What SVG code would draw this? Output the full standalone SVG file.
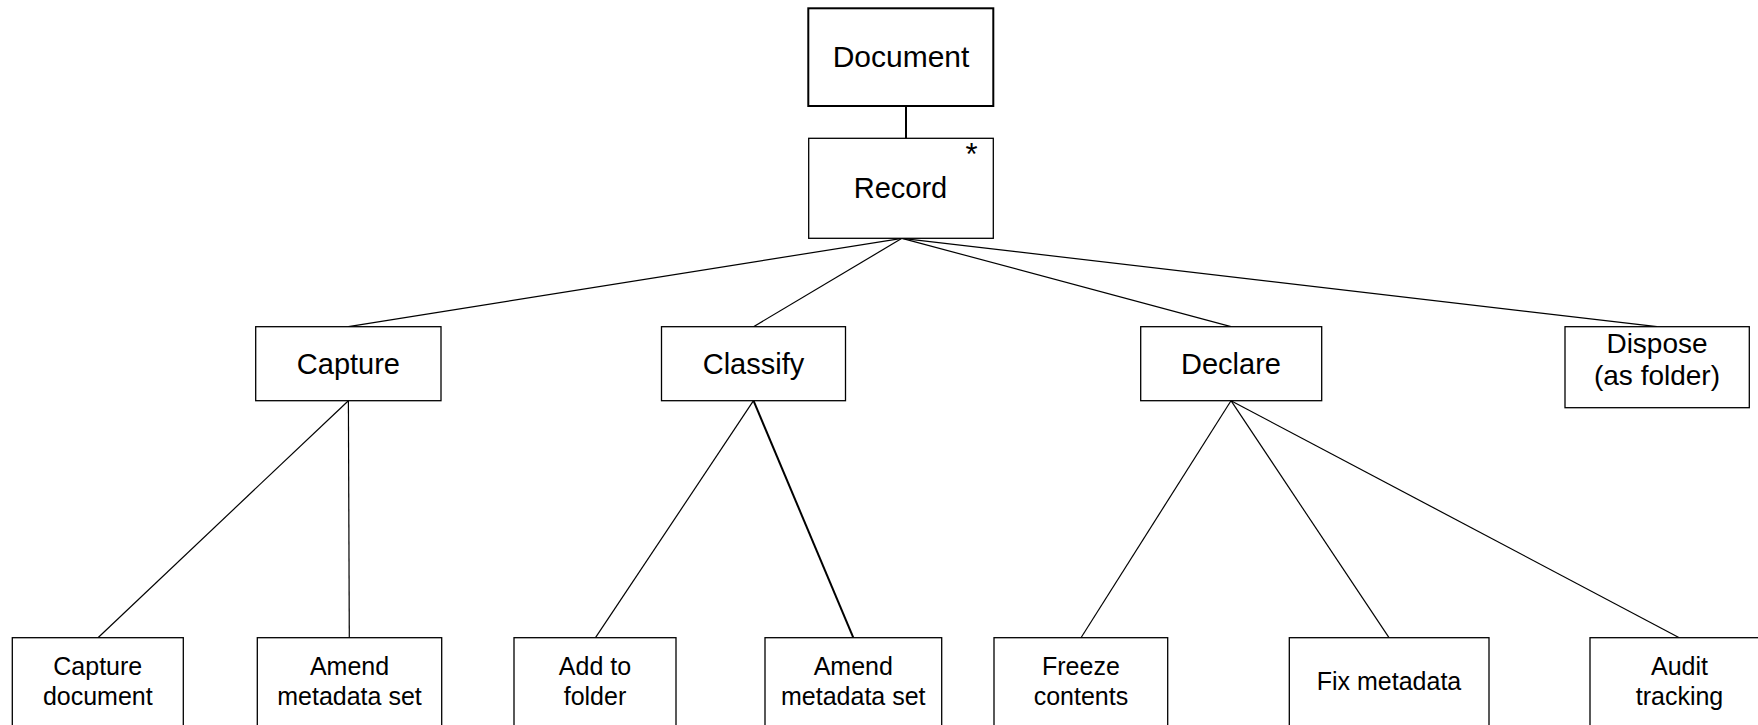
<svg xmlns="http://www.w3.org/2000/svg" width="1758" height="725" viewBox="0 0 1758 725">
<style>
.box{fill:#fff;stroke:#000;stroke-width:1.3}
.t{font-family:"Liberation Sans",Arial,sans-serif;font-size:29px;fill:#000;text-anchor:middle}
.s{font-family:"Liberation Sans",Arial,sans-serif;font-size:25px;fill:#000;text-anchor:middle}
.c line{stroke:#000;stroke-width:1.2}
</style>
<rect width="1758" height="725" fill="#fff"/>
<g class="c" id="connectors">
<line x1="906" y1="106" x2="906" y2="138.3" style="stroke-width:2"/>
<line x1="902" y1="238.3" x2="348.4" y2="326.7"/>
<line x1="902" y1="238.3" x2="753.5" y2="326.7"/>
<line x1="902" y1="238.3" x2="1231" y2="326.7"/>
<line x1="902" y1="238.3" x2="1657" y2="326.7"/>
<line x1="348.4" y1="400.7" x2="98" y2="637.7"/>
<line x1="348.4" y1="400.7" x2="349.3" y2="637.7"/>
<line x1="753.5" y1="400.7" x2="595.5" y2="637.7"/>
<line x1="753.5" y1="400.7" x2="853.3" y2="637.7" style="stroke-width:2"/>
<line x1="1231" y1="400.7" x2="1081" y2="637.7"/>
<line x1="1231" y1="400.7" x2="1389" y2="637.7"/>
<line x1="1231" y1="400.7" x2="1679.3" y2="637.7"/>
</g>
<g id="document"><rect class="box" x="808.3" y="8.3" width="185" height="97.7" style="stroke-width:2"/><text class="t" x="901" y="67" style="font-size:30px">Document</text></g>
<g id="record"><rect class="box" x="808.7" y="138.3" width="184.6" height="100"/><text class="t" x="900.5" y="198">Record</text><text class="t" x="971.5" y="165" style="font-size:31px">*</text></g>
<g id="capture"><rect class="box" x="255.7" y="326.7" width="185.3" height="74"/><text class="t" x="348.4" y="374">Capture</text></g>
<g id="classify"><rect class="box" x="661.5" y="326.7" width="184" height="74"/><text class="t" x="753.5" y="374">Classify</text></g>
<g id="declare"><rect class="box" x="1140.7" y="326.7" width="181" height="74"/><text class="t" x="1231" y="374">Declare</text></g>
<g id="dispose"><rect class="box" x="1565" y="326.7" width="184.3" height="81"/><text class="t" x="1657" y="353" style="font-size:28px">Dispose</text><text class="t" x="1657" y="385" style="font-size:28px">(as folder)</text></g>
<g id="capture-document"><rect class="box" x="12.3" y="637.7" width="171" height="110"/><text class="s" x="97.8" y="675">Capture</text><text class="s" x="97.8" y="705">document</text></g>
<g id="amend-metadata-1"><rect class="box" x="257.3" y="637.7" width="184.4" height="110"/><text class="s" x="349.5" y="675">Amend</text><text class="s" x="349.5" y="705">metadata set</text></g>
<g id="add-to-folder"><rect class="box" x="514" y="637.7" width="162" height="110"/><text class="s" x="595" y="675">Add to</text><text class="s" x="595" y="705">folder</text></g>
<g id="amend-metadata-2"><rect class="box" x="765" y="637.7" width="176.7" height="110"/><text class="s" x="853.3" y="675">Amend</text><text class="s" x="853.3" y="705">metadata set</text></g>
<g id="freeze-contents"><rect class="box" x="994" y="637.7" width="173.7" height="110"/><text class="s" x="1080.9" y="675">Freeze</text><text class="s" x="1080.9" y="705">contents</text></g>
<g id="fix-metadata"><rect class="box" x="1289.3" y="637.7" width="199.7" height="110"/><text class="s" x="1389" y="690">Fix metadata</text></g>
<g id="audit-tracking"><rect class="box" x="1590" y="637.7" width="180" height="110"/><text class="s" x="1679.5" y="675">Audit</text><text class="s" x="1679.5" y="705">tracking</text></g>
</svg>
